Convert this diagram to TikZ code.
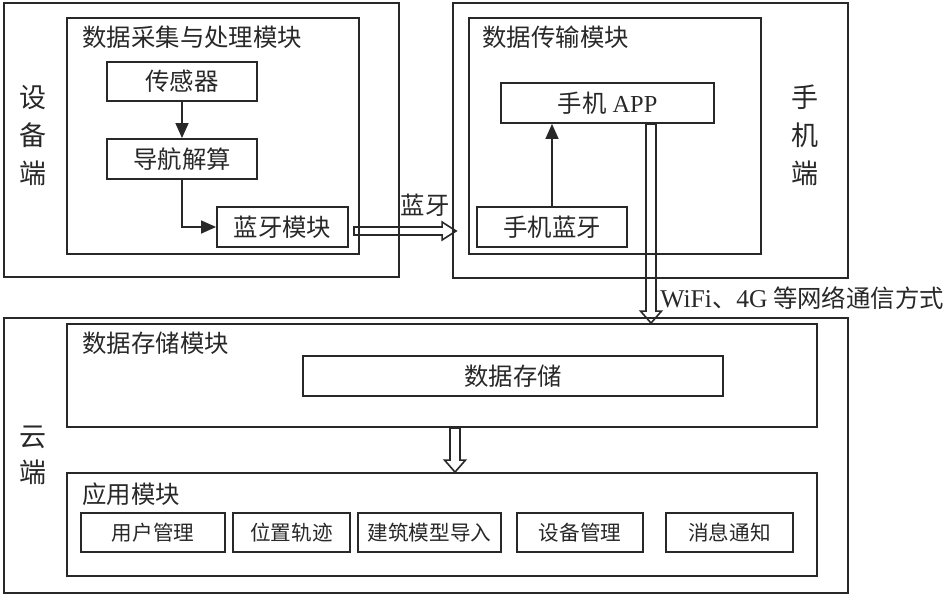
\documentclass[tikz,border=0pt]{standalone}
\usepackage{fontspec}
\setmainfont{Noto Sans CJK SC}
\newfontfamily\latin{Liberation Serif}
\usetikzlibrary{arrows.meta,calc}
\definecolor{ink}{RGB}{40,40,40}
\newcommand\fa{\fontsize{12.2pt}{14pt}\selectfont}
\newcommand\fb{\fontsize{10.3pt}{12pt}\selectfont}
\newcommand\fside{\fontsize{13.5pt}{19pt}\selectfont}
\newcommand\fsidec{\fontsize{13.5pt}{18pt}\selectfont}
\tikzset{
  box/.style={draw=ink, line width=0.95pt, inner sep=0pt, text=ink, font=\fa},
  smallbox/.style={box, font=\fb, minimum height=19.5pt},
  title/.style={anchor=west, inner sep=0pt, text=ink, font=\fa},
  lab/.style={inner sep=0pt, text=ink, font=\fa},
  side/.style={inner sep=0pt, text=ink, align=center, font=\fside},
  conn/.style={draw=ink, line width=0.8pt, -{Triangle[length=7.5pt,width=6.5pt]}},
  hollowdown/.style={draw=ink, line width=0.8pt,
    to path={let \p1=(\tikztostart), \p2=(\tikztotarget) in
      (\x1-2.5pt,\y1) -- (\x1-2.5pt,\y2+6pt) -- (\x1-5.25pt,\y2+6pt) -- (\x1,\y2)
      -- (\x1+5.25pt,\y2+6pt) -- (\x1+2.5pt,\y2+6pt) -- (\x1+2.5pt,\y1) -- cycle}},
  hollowright/.style={draw=ink, line width=0.8pt,
    to path={let \p1=(\tikztostart), \p2=(\tikztotarget) in
      (\x1,\y1+2pt) -- (\x2-7pt,\y1+2pt) -- (\x2-7pt,\y1+4.5pt) -- (\x2,\y1)
      -- (\x2-7pt,\y1-4.5pt) -- (\x2-7pt,\y1-2pt) -- (\x1,\y1-2pt) -- cycle}}
}
\begin{document}
\begin{tikzpicture}[x=0.5pt,y=-0.5pt]
\useasboundingbox (0,0) rectangle (945,595);
% device side
\node[box, minimum width=197.5pt, minimum height=137pt] (devOuter) at (201.5,140) {};
\node[box, minimum width=146pt, minimum height=118pt] (devInner) at (213,136) {};
\node[title] (devTitle) at (82,37) {数据采集与处理模块};
\node[box, minimum width=75pt, minimum height=19.5pt] (sensor) at (182,81.5) {传感器};
\node[box, minimum width=75pt, minimum height=20pt] (nav) at (182,159) {导航解算};
\node[box, minimum width=65.5pt, minimum height=20pt] (bt) at (282.5,227) {蓝牙模块};
\node[side] (devLabel) at (33,136) {设\\备\\端};
% phone side
\node[box, minimum width=197.5pt, minimum height=137.5pt] (phoneOuter) at (650.5,140.5) {};
\node[box, minimum width=146pt, minimum height=118pt] (phoneInner) at (615,136) {};
\node[title] (phoneTitle) at (482,37) {数据传输模块};
\node[box, minimum width=106.5pt, minimum height=20pt] (app) at (607.5,103) {手机{\latin\ APP}};
\node[box, minimum width=75pt, minimum height=20pt] (pbt) at (552,227) {手机蓝牙};
\node[side] (phoneLabel) at (805,135) {手\\机\\端};
% cloud side
\node[box, minimum width=422pt, minimum height=137.5pt] (cloudOuter) at (426,455.5) {};
\node[box, minimum width=375pt, minimum height=51.5pt] (store) at (442,375.5) {};
\node[title] (storeTitle) at (82,343) {数据存储模块};
\node[box, minimum width=210pt, minimum height=20pt] (storeBox) at (513,376) {数据存储};
\node[box, minimum width=375pt, minimum height=51.5pt] (appmod) at (442,524.5) {};
\node[title] (appTitle) at (82,494) {应用模块};
\node[smallbox, minimum width=72pt] (u1) at (153,532.5) {用户管理};
\node[smallbox, minimum width=58.5pt] (u2) at (291.5,532.5) {位置轨迹};
\node[smallbox, minimum width=71.5pt] (u3) at (429.5,532.5) {建筑模型导入};
\node[smallbox, minimum width=63pt] (u4) at (580,532.5) {设备管理};
\node[smallbox, minimum width=63.5pt] (u5) at (729.5,532.5) {消息通知};
\node[side, font=\fsidec] (cloudLabel) at (33,455) {云\\端};
% labels
\node[lab] (btLabel) at (425,205) {蓝牙};
\node[lab, anchor=west] (wifiLabel) at (660,298) {{\latin\fontsize{12.8pt}{14pt}\selectfont WiFi}、{\latin\fontsize{12.8pt}{14pt}\selectfont 4G} 等网络通信方式};
% connectors
\draw[conn] (sensor.south) -- (nav.north);
\draw[conn] (nav.south) |- (bt.west);
\draw[conn] (pbt.north) -- (pbt.north |- app.south);
\draw[hollowright] ([xshift=2.5pt,yshift=-2pt]bt.east) to ([xshift=2pt,yshift=-2pt]bt.east -| phoneOuter.west);
\draw[hollowdown] ([xshift=21.75pt]app.south) to ([xshift=21.75pt]app.south |- store.north);
\draw[hollowdown] ([xshift=6.5pt]store.south) to ([xshift=6.5pt]appmod.north);
\end{tikzpicture}
\end{document}
